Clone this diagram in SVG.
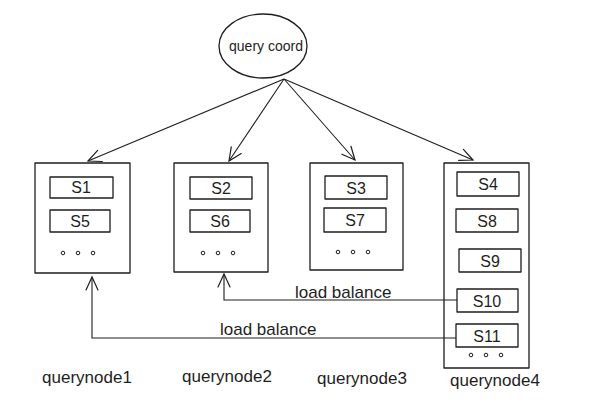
<svg xmlns="http://www.w3.org/2000/svg" width="598" height="402" viewBox="0 0 598 402">
<defs>
<style>
.s{fill:none;stroke:#1e1e1e;stroke-width:1.3;stroke-linecap:round;stroke-linejoin:round}
.c{fill:none;stroke:#1e1e1e;stroke-width:1.1}
.t{font-family:"Liberation Sans",Arial,sans-serif;font-size:16px;fill:#1e1e1e}
.l{font-size:17px}
.q{font-size:14px}
.m{text-anchor:middle}
.d{fill:none;stroke:#1e1e1e;stroke-width:1}
</style>
<marker id="ah" markerUnits="userSpaceOnUse" markerWidth="20" markerHeight="20" refX="14" refY="7" orient="auto">
<path d="M1,1 L14,7 L1,13" fill="none" stroke="#1e1e1e" stroke-width="1.2" stroke-linecap="round"/>
</marker>
</defs>
<rect width="598" height="402" fill="#ffffff"/>

<g id="coord">
<ellipse class="s" cx="263" cy="46" rx="44" ry="32"/>
<text class="t q m" x="266" y="51">query coord</text>
</g>

<g id="querynode1">
<rect class="s" x="35" y="163" width="95" height="110"/>
<rect class="s" x="50" y="177" width="63" height="21"/>
<text class="t m" x="81" y="193">S1</text>
<rect class="s" x="50" y="210" width="60" height="22"/>
<text class="t m" x="80" y="227">S5</text>
<circle class="d" cx="63" cy="253" r="1.8"/><circle class="d" cx="78" cy="253" r="1.8"/><circle class="d" cx="93" cy="253" r="1.8"/>
<text class="t l m" x="87" y="383">querynode1</text>
</g>

<g id="querynode2">
<rect class="s" x="174" y="163" width="94" height="109"/>
<rect class="s" x="190" y="177" width="62" height="22"/>
<text class="t m" x="221" y="194">S2</text>
<rect class="s" x="190" y="210" width="60" height="22"/>
<text class="t m" x="220" y="227">S6</text>
<circle class="d" cx="203" cy="253" r="1.8"/><circle class="d" cx="218" cy="253" r="1.8"/><circle class="d" cx="233" cy="253" r="1.8"/>
<text class="t l m" x="227" y="382">querynode2</text>
</g>

<g id="querynode3">
<rect class="s" x="310" y="163" width="93" height="107"/>
<rect class="s" x="325" y="176" width="62" height="23"/>
<text class="t m" x="356" y="194">S3</text>
<rect class="s" x="324" y="208" width="62" height="24"/>
<text class="t m" x="355" y="226">S7</text>
<circle class="d" cx="338" cy="252" r="1.8"/><circle class="d" cx="353" cy="252" r="1.8"/><circle class="d" cx="368" cy="252" r="1.8"/>
<text class="t l m" x="362" y="384">querynode3</text>
</g>

<g id="querynode4">
<rect class="s" x="444" y="163" width="85" height="205"/>
<rect class="s" x="457" y="172" width="62" height="24"/>
<text class="t m" x="488" y="190">S4</text>
<rect class="s" x="456" y="209" width="62" height="23"/>
<text class="t m" x="487" y="227">S8</text>
<rect class="s" x="459" y="249" width="62" height="23"/>
<text class="t m" x="490" y="267">S9</text>
<rect class="s" x="457" y="289" width="61" height="23"/>
<text class="t m" x="487" y="307">S10</text>
<rect class="s" x="456" y="324" width="62" height="23"/>
<text class="t m" x="487" y="342">S11</text>
<circle class="d" cx="471" cy="355" r="1.8"/><circle class="d" cx="486" cy="355" r="1.8"/><circle class="d" cx="501" cy="355" r="1.8"/>
<text class="t l m" x="495" y="386">querynode4</text>
</g>

<g id="connectors">
<path class="c" d="M284,79 L88,161" marker-end="url(#ah)"/>
<path class="c" d="M284,79 L229,161" marker-end="url(#ah)"/>
<path class="c" d="M284,79 L355,160" marker-end="url(#ah)"/>
<path class="c" d="M284,79 L473,160" marker-end="url(#ah)"/>
<path class="c" d="M457,300 L224,300 L224,274" marker-end="url(#ah)"/>
<path class="c" d="M456,338 L92,338 L92,277" marker-end="url(#ah)"/>
<text class="t l" x="295" y="298">load balance</text>
<text class="t l" x="220" y="335">load balance</text>
</g>
</svg>
